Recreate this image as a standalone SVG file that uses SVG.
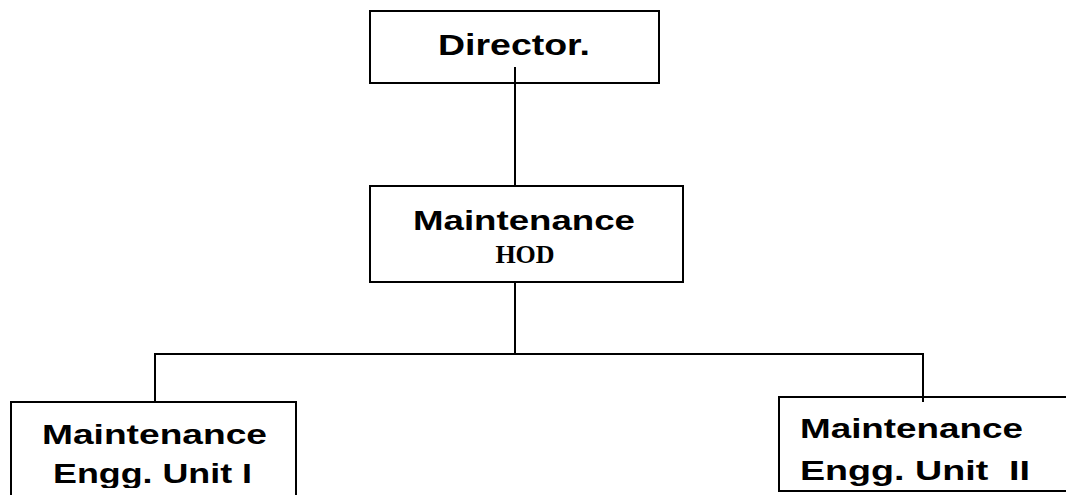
<svg xmlns="http://www.w3.org/2000/svg" width="1066" height="495" viewBox="0 0 1066 495">
  <style>
    .box { fill: #fff; stroke: #000; stroke-width: 2; }
    .conn { fill: none; stroke: #000; stroke-width: 2; }
    .sans { font-family: "Liberation Sans", Arial, sans-serif; font-weight: bold; fill: #000; }
    .serif { font-family: "Liberation Serif", "Times New Roman", serif; font-weight: bold; fill: #000; }
  </style>
  <defs>
    <clipPath id="clipL"><rect x="0" y="400" width="320" height="88"/></clipPath>
    <clipPath id="clipR"><rect x="780" y="398" width="286" height="88"/></clipPath>
  </defs>
  <rect width="1066" height="495" fill="#fff"/>

  <g id="director">
    <rect class="box" x="370" y="11" width="289" height="72"/>
    <text class="sans" x="438" y="55" font-size="30" textLength="152" lengthAdjust="spacingAndGlyphs">Director.</text>
  </g>

  <g id="hod">
    <rect class="box" x="370" y="186" width="313" height="96"/>
    <text class="sans" x="413" y="230" font-size="28" textLength="222" lengthAdjust="spacingAndGlyphs">Maintenance</text>
    <text class="serif" x="525" y="263" font-size="26" text-anchor="middle">HOD</text>
  </g>

  <g id="unit1">
    <rect class="box" x="11" y="402" width="285" height="110"/>
    <g clip-path="url(#clipL)">
      <text class="sans" x="42" y="444" font-size="28" textLength="225" lengthAdjust="spacingAndGlyphs">Maintenance</text>
      <text class="sans" x="53" y="483" font-size="28" textLength="199" lengthAdjust="spacingAndGlyphs">Engg. Unit I</text>
    </g>
  </g>

  <g id="unit2">
    <rect class="box" x="779" y="397" width="300" height="94"/>
    <g clip-path="url(#clipR)">
      <text class="sans" x="800" y="438" font-size="27" textLength="223" lengthAdjust="spacingAndGlyphs">Maintenance</text>
      <text class="sans" x="800" y="480" font-size="27" textLength="230" lengthAdjust="spacingAndGlyphs" xml:space="preserve">Engg. Unit  II</text>
    </g>
  </g>

  <g id="connectors">
    <line class="conn" x1="515" y1="67" x2="515" y2="186"/>
    <line class="conn" x1="515" y1="282" x2="515" y2="354"/>
    <line class="conn" x1="154" y1="354" x2="924" y2="354"/>
    <line class="conn" x1="155" y1="353" x2="155" y2="402"/>
    <line class="conn" x1="923" y1="353" x2="923" y2="402"/>
  </g>
</svg>
